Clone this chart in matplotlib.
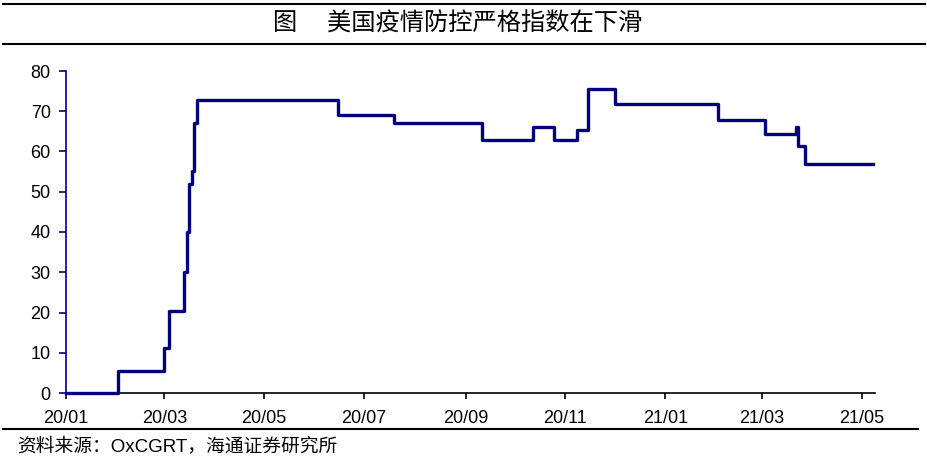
import matplotlib
matplotlib.use("Agg")
import matplotlib.pyplot as plt
import matplotlib.dates as mdates
from matplotlib.lines import Line2D
import pandas as pd

plt.rcParams['font.family'] = ['Liberation Sans', 'Noto Sans CJK SC', 'DejaVu Sans']

# Step change points of the US stringency index (OxCGRT)
change_dates = ["2020-01-01", "2020-02-02", "2020-03-01", "2020-03-04", "2020-03-13",
                "2020-03-15", "2020-03-16", "2020-03-18", "2020-03-19", "2020-03-21",
                "2020-06-15", "2020-07-19", "2020-09-11", "2020-10-12", "2020-10-25",
                "2020-11-08", "2020-11-15", "2020-12-01", "2021-02-02", "2021-03-03",
                "2021-03-22", "2021-03-23", "2021-03-27", "2021-05-08"]
index_values = [0.0, 5.56, 11.11, 20.37, 30.09,
                40.0, 52.0, 55.09, 67.13, 72.69,
                68.98, 67.13, 62.96, 66.2, 62.96,
                65.28, 75.46, 71.76, 67.82, 64.35,
                66.2, 61.34, 56.94, 56.94]

x_tick_dates = ["2020-01-01", "2020-03-01", "2020-05-01", "2020-07-01", "2020-09-01",
                "2020-11-01", "2021-01-01", "2021-03-01", "2021-05-01"]
x_tick_labels = ["20/01", "20/03", "20/05", "20/07", "20/09", "20/11", "21/01", "21/03", "21/05"]
y_ticks = [0, 10, 20, 30, 40, 50, 60, 70, 80]

title_text = "图　 美国疫情防控严格指数在下滑"
source_text = "资料来源：OxCGRT，海通证券研究所"

W, H = 928, 459
fig = plt.figure(figsize=(W / 100, H / 100), dpi=100)
ax = fig.add_axes([66 / W, 1 - 393 / H, (875 - 66) / W, (393 - 71) / H])

navy = "#000080"
dates = pd.to_datetime(change_dates)
ax.plot(dates, index_values, drawstyle="steps-post", color=navy, lw=2.4,
        clip_on=False, zorder=5)

ax.set_xlim(pd.Timestamp("2020-01-01"), pd.Timestamp("2021-05-09"))
ax.set_ylim(0, 80)
ax.set_yticks(y_ticks)
ax.set_yticklabels([str(v) for v in y_ticks], fontsize=13)
ax.set_xticks(pd.to_datetime(x_tick_dates))
ax.set_xticklabels(x_tick_labels, fontsize=13)

for s in ["top", "right"]:
    ax.spines[s].set_visible(False)
ax.spines["left"].set_color(navy)
ax.spines["left"].set_linewidth(1.2)
ax.spines["bottom"].set_color("black")
ax.spines["bottom"].set_linewidth(1.2)
ax.tick_params(axis="y", direction="out", length=5, width=1.2, color=navy, pad=6)
ax.tick_params(axis="x", direction="out", length=4, width=1.2, color="black", pad=8)

# Title and frame lines
fig.add_artist(Line2D([3 / W, 925 / W], [1 - 3.5 / H, 1 - 3.5 / H], color="black", lw=1.5))
fig.add_artist(Line2D([3 / W, 925 / W], [1 - 43.5 / H, 1 - 43.5 / H], color="black", lw=1.5))
fig.text(458 / W, 1 - 24 / H, title_text, ha="center", va="center", fontsize=17.5,
         family=['Noto Sans CJK SC', 'DejaVu Sans'], weight="medium")
fig.add_artist(Line2D([3 / W, 918 / W], [1 - 429 / H, 1 - 429 / H], color="black", lw=1.5))
fig.text(17 / W, 1 - 446 / H, source_text, ha="left", va="center", fontsize=13.5,
         family=['Liberation Sans', 'Noto Sans CJK SC', 'DejaVu Sans'])

fig.savefig("out.png", dpi=100)
